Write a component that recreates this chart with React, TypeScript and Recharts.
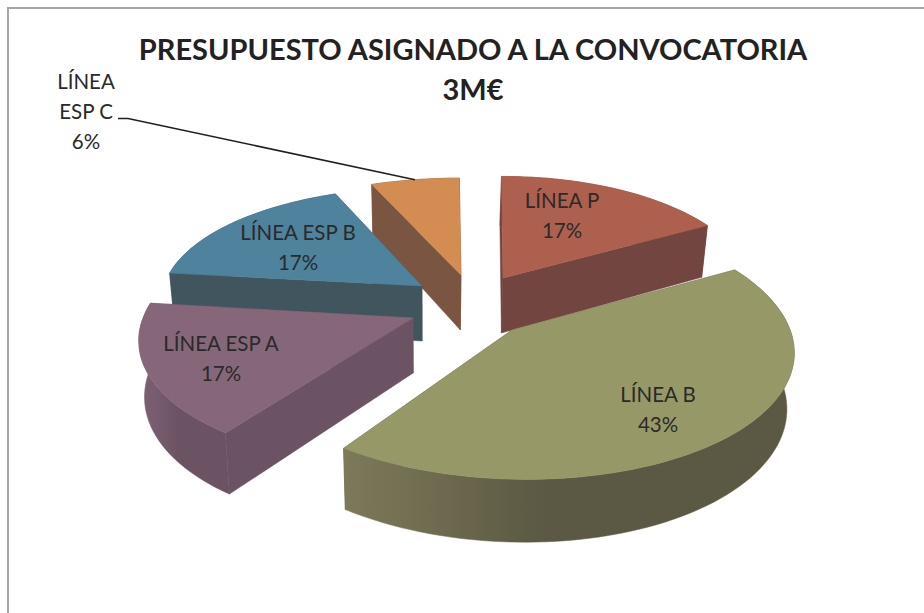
import { PieChart, Pie } from 'recharts';

const categories = ['LÍNEA P', 'LÍNEA ESP C', 'LÍNEA ESP B', 'LÍNEA ESP A', 'LÍNEA B'];
const shares = [17, 6, 17, 17, 43];
const titleLines = ['PRESUPUESTO ASIGNADO A LA CONVOCATORIA', '3M€'];

const data = categories.map((name, i) => ({ name, value: shares[i] }));

const WIDTH = 924;
const HEIGHT = 613;
const PIE_CX = 460;
const PIE_CY = 300;
const PIE_R = 270;
const THICKNESS = 55;
const PERSPECTIVE = 8;
const VANISH_X = 425;
const FONT = 'Lato, "Open Sans", sans-serif';

// per slice look, same order as categories: explode shift, radius factor, tilt, shear
const looks = [
  { dx: 43, dy: -22, scale: 0.92, tilt: 0.46, shear: 0, top: '#AE604F', wall: '#734541', outerFrom: '#7E4A44', outerTo: '#734541' },
  { dx: 1, dy: -25, scale: 0.985, tilt: 0.41, shear: 0, top: '#D38D52', wall: '#7A5541', outerFrom: '#7A5541', outerTo: '#7A5541' },
  { dx: -38, dy: -14, scale: 0.955, tilt: 0.43, shear: 0, top: '#4E829D', wall: '#41555E', outerFrom: '#41555E', outerTo: '#41555E' },
  { dx: -47, dy: 18, scale: 1, tilt: 0.47, shear: 0.11, top: '#866779', wall: '#6C5363', outerFrom: '#7D6275', outerTo: '#6C5363' },
  { dx: 52, dy: 30, scale: 1.03, tilt: 0.47, shear: -0.1, top: '#979868', wall: '#5B5843', outerFrom: '#7D7A5A', outerTo: '#5B5843' },
];

// label centre relative to the pie centre
const labelSpots = [
  { x: 102, y: -92 },
  { x: -374, y: -211.5 },
  { x: -162, y: -60 },
  { x: -239, y: 51 },
  { x: 198, y: 102 },
];
const LINE_GAP = 30;

const rad = (deg: number) => (deg * Math.PI) / 180;

function project(i: number, cx: number, cy: number, r: number, deg: number, frac = 1) {
  const look = looks[i];
  const radius = r * look.scale * frac;
  const along = Math.cos(rad(deg));
  const far = Math.sin(rad(deg));
  const s = 1 / (1 + (far * frac) / PERSPECTIVE);
  const down = -look.tilt * radius * far * s;
  return {
    x: cx + look.dx + radius * along * s - look.shear * down,
    y: cy + look.dy + down,
    depth: THICKNESS * s,
  };
}

const lowered = (p: { x: number; y: number; depth: number }) => ({
  x: VANISH_X + (p.x - VANISH_X) * 0.98,
  y: p.y + p.depth,
  depth: p.depth,
});

const pathOf = (pts: { x: number; y: number }[]) =>
  pts.map((p, k) => `${k ? 'L' : 'M'}${p.x.toFixed(1)} ${p.y.toFixed(1)}`).join(' ') + ' Z';

function Slice3D(props: any) {
  const { cx, cy, outerRadius, startAngle, endAngle, index } = props;
  const look = looks[index];
  const steps = Math.max(8, Math.ceil(Math.abs(endAngle - startAngle) / 2));
  const rim = [];
  for (let k = 0; k <= steps; k++) {
    rim.push(project(index, cx, cy, outerRadius, startAngle + ((endAngle - startAngle) * k) / steps));
  }
  const apex = project(index, cx, cy, outerRadius, startAngle, 0);
  const first = rim[0];
  const last = rim[rim.length - 1];
  const mid = (startAngle + endAngle) / 2;

  const walls = [
    {
      key: 'start',
      far: Math.sin(rad(startAngle)) / 2,
      d: pathOf([apex, first, lowered(first), lowered(apex)]),
      fill: look.wall,
    },
    {
      key: 'end',
      far: Math.sin(rad(endAngle)) / 2,
      d: pathOf([apex, last, lowered(last), lowered(apex)]),
      fill: look.wall,
    },
    {
      key: 'outer',
      far: Math.sin(rad(mid)),
      d: pathOf([...rim, ...rim.slice().reverse().map(lowered)]),
      fill: `url(#outer-${index})`,
    },
  ].sort((a, b) => b.far - a.far);

  return (
    <g>
      <defs>
        <linearGradient id={`outer-${index}`} x1="0" y1="0" x2="1" y2="0">
          <stop offset="0%" stopColor={look.outerFrom} />
          <stop offset="45%" stopColor={look.outerTo} />
          <stop offset="100%" stopColor={look.outerTo} />
        </linearGradient>
      </defs>
      {walls.map((w) => (
        <path key={w.key} d={w.d} fill={w.fill} stroke={w.fill} strokeWidth={0.5} />
      ))}
      <path d={pathOf([apex, ...rim])} fill={look.top} stroke={look.top} strokeWidth={0.5} />
    </g>
  );
}

function SliceLabel(props: any) {
  const { cx, cy, index, name, value, outerRadius, midAngle } = props;
  const spot = labelSpots[index];
  const x = cx + spot.x;
  const y = cy + spot.y;
  const label = categories[index] ?? name;
  const wrap = label.endsWith('ESP C');
  const lines = wrap ? ['LÍNEA', 'ESP C', `${value}%`] : [label, `${value}%`];
  const tip = project(index, cx, cy, outerRadius, midAngle);
  return (
    <g>
      {wrap && (
        <polyline
          points={`${x + 32},${y + 30} ${x + 42},${y + 30} ${tip.x},${tip.y}`}
          fill="none"
          stroke="#1F1F1F"
          strokeWidth={1.6}
        />
      )}
      {lines.map((line, k) => (
        <text
          key={k}
          x={x}
          y={y + k * LINE_GAP}
          textAnchor="middle"
          fontFamily={FONT}
          fontSize={20.5}
          fill="#2A2A2A"
        >
          {line}
        </text>
      ))}
    </g>
  );
}

export default function App() {
  return (
    <div style={{ position: 'absolute', left: 0, top: 0, width: WIDTH, height: HEIGHT, background: '#fff', overflow: 'hidden' }}>
      <div
        style={{
          position: 'absolute',
          left: 7,
          top: 7,
          width: WIDTH,
          height: HEIGHT,
          borderLeft: '2px solid #A6A6A6',
          borderTop: '2px solid #A6A6A6',
        }}
      />
      <div style={{ position: 'absolute', left: 0, top: 0 }}>
        <PieChart width={WIDTH} height={HEIGHT} margin={{ top: 0, right: 0, bottom: 0, left: 0 }}>
          <Pie
            data={data}
            dataKey="value"
            nameKey="name"
            cx={PIE_CX}
            cy={PIE_CY}
            outerRadius={PIE_R}
            startAngle={29.2}
            endAngle={389.2}
            stroke="none"
            isAnimationActive={false}
            shape={Slice3D}
            label={SliceLabel}
            labelLine={false}
          />
          {titleLines.map((line, i) => (
            <text
              key={line}
              x={473}
              y={60 + i * 40}
              textAnchor="middle"
              fontFamily={FONT}
              fontWeight={700}
              fontSize={29}
              fill="#222222"
            >
              {line}
            </text>
          ))}
        </PieChart>
      </div>
    </div>
  );
}
